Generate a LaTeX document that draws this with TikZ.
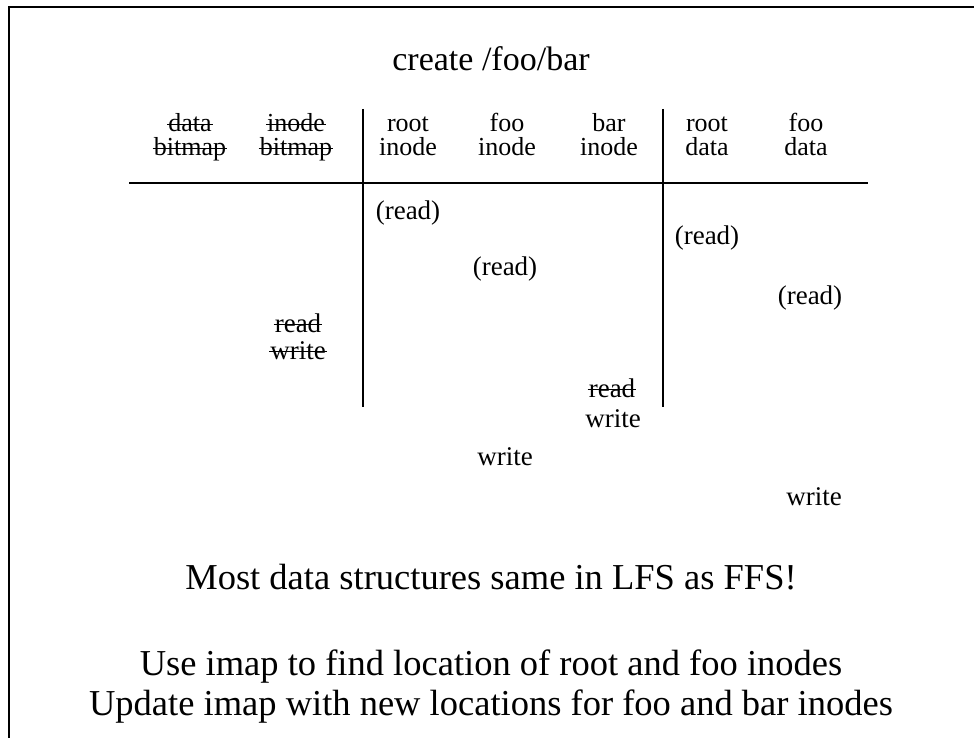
\documentclass[tikz,border=0pt]{standalone}
\usepackage{fontspec}
\setmainfont{Liberation Serif}

\begin{document}
\begin{tikzpicture}[x=1pt,y=-1pt,
  cell/.style={font=\fontsize{27}{24}\selectfont, inner sep=0pt, anchor=base},
  head/.style={font=\fontsize{26}{24}\selectfont, inner sep=0pt, anchor=base},
  big/.style={font=\fontsize{36.5}{40}\selectfont, inner sep=0pt, anchor=base},
  heading/.style={font=\fontsize{34}{40}\selectfont, inner sep=0pt, anchor=base},
  rule/.style={line width=2.5pt},
  frame/.style={line width=2.7pt},
  strike/.style={line width=1.7pt}]

\useasboundingbox (0,0) rectangle (974,738);

% slide frame: left and top edges
\coordinate (fbl) at (9,738);
\coordinate (ftl) at (9,7);
\coordinate (ftr) at (974,7);
\draw[frame] (fbl) -- (ftl) -- (ftr);

% title
\node[heading] (title) at (491,71) {create /foo/bar};

% column headers
\node[head] (dbA) at (190,132) {data};
\node[head] (dbB) at (190,156) {bitmap};
\node[head] (ibA) at (296,132) {inode};
\node[head] (ibB) at (296,156) {bitmap};
\node[head] (riA) at (408,132) {root};
\node[head] (riB) at (408,156) {inode};
\node[head] (fiA) at (507,132) {foo};
\node[head] (fiB) at (507,156) {inode};
\node[head] (biA) at (609,132) {bar};
\node[head] (biB) at (609,156) {inode};
\node[head] (rdA) at (707,132) {root};
\node[head] (rdB) at (707,156) {data};
\node[head] (fdA) at (806,132) {foo};
\node[head] (fdB) at (806,156) {data};

% table rules
\coordinate (hL) at (129,183);
\coordinate (hR) at (868,183);
\coordinate (v1t) at (363,109);
\coordinate (v1b) at (363,407);
\coordinate (v2t) at (663,109);
\coordinate (v2b) at (663,407);
\draw[rule] (hL) -- (hR);
\draw[rule] (v1t) -- (v1b);
\draw[rule] (v2t) -- (v2b);

% accesses
\node[cell] (r1) at (408,219) {(read)};
\node[cell] (r2) at (707,244) {(read)};
\node[cell] (r3) at (505,275) {(read)};
\node[cell] (r4) at (810,304) {(read)};
\node[cell] (ibr) at (298,332) {read};
\node[cell] (ibw) at (298,359) {write};
\node[cell] (bir) at (612,397) {read};
\node[cell] (biw) at (613,427) {write};
\node[cell] (fiw) at (505,465) {write};
\node[cell] (fdw) at (814,505) {write};

% struck-out words
\foreach \n in {dbA,dbB,ibA,ibB,ibr,ibw,bir}
  \draw[strike] ([xshift=-1pt,yshift=7.5pt]\n.base west) -- ([xshift=1pt,yshift=7.5pt]\n.base east);

% remarks
\node[big] (note) at (491,589) {Most data structures same in LFS as FFS!};
\node[big] (imap1) at (491,675) {Use imap to find location of root and foo inodes};
\node[big] (imap2) at (491,715) {Update imap with new locations for foo and bar inodes};
\end{tikzpicture}
\end{document}
